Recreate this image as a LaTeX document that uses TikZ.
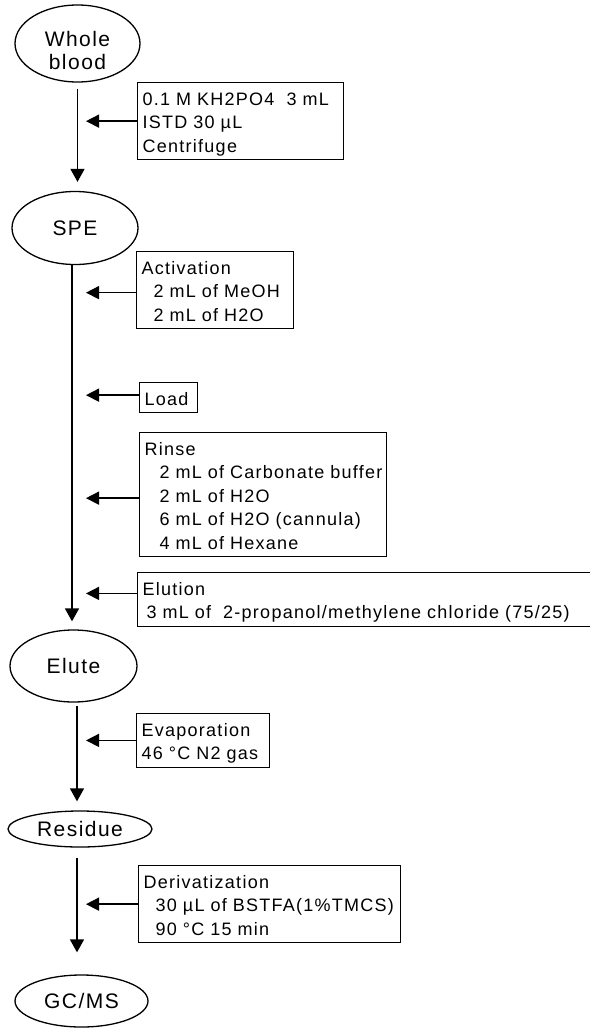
\documentclass[tikz,border=0pt]{standalone}
\usepackage{fontspec}
\setmainfont{Liberation Sans}[LetterSpace=7,WordSpace=1.3]
\usetikzlibrary{arrows.meta,shapes.geometric}
\tikzset{
stage/.style={ellipse,draw,line width=1.3pt,inner sep=0pt,align=center,font=\fontsize{21}{23}\selectfont},
cond/.style={draw,line width=1.3pt,anchor=north west,align=left,inner xsep=5pt,inner ysep=0pt,font=\fontsize{18}{23.5}\selectfont},
flow/.style={line width=1.5pt,-{Triangle[length=13pt,width=14pt]}},
feed/.style={line width=1.5pt,-{Triangle[length=13pt,width=13pt]}}
}
\newcommand{\fst}{\rule{0pt}{22.5pt}}
\newcommand{\lst}{\rule[-7.5pt]{0pt}{7.5pt}}
\newcommand{\ind}{\hspace*{12pt}}

\begin{document}
\begin{tikzpicture}[x=1pt,y=-1pt]
\useasboundingbox(0,0)rectangle(589,1028);
\node[stage,minimum width=125pt,minimum height=77pt](wb)at(77.5,43.5){\rule{0pt}{30pt}Whole\\blood};
\node[stage,minimum width=126pt,minimum height=73pt](spe)at(75,228){SPE};
\node[stage,minimum width=127pt,minimum height=72pt](elute)at(73.5,666){Elute};
\node[stage,minimum width=144pt,minimum height=36pt](res)at(80,829){Residue};
\node[stage,minimum width=133pt,minimum height=52pt](gcms)at(81.5,1001){GC/MS};
\node[cond,text width=196pt](buf)at(137,82){\fst 0.1 M KH2PO4\ \ 3 mL\\ISTD 30 µL\\Centrifuge\lst};
\node[cond,text width=147pt](act)at(136,251){\fst Activation\\\ind 2 mL of MeOH\\\ind 2 mL of H2O\lst};
\node[cond,text width=48pt](load)at(139,382){\fst Load\lst};
\node[cond,text width=237pt](rinse)at(139,432){\fst Rinse\\\hspace*{15pt}2 mL of Carbonate buffer\\\hspace*{15pt}2 mL of H2O\\\hspace*{15pt}6 mL of H2O (cannula)\\\hspace*{15pt}4 mL of Hexane\lst};
\node[cond,text width=445pt](elu)at(137,572){\fst Elution\\\hspace*{4pt}3 mL of\ \ 2-propanol/methylene chloride (75/25)\lst};
\node[cond,text width=123pt](evap)at(136,713){\fst Evaporation\\46 °C N2 gas\lst};
\node[cond,text width=252pt](deriv)at(138,865){\fst Derivatization\\\ind 30 µL of BSTFA(1\%TMCS)\\\ind 90 °C 15 min\lst};
\coordinate(tip)at(86,0);
\draw[flow,shorten <=6pt,shorten >=9pt](wb.south)--(wb.south|-spe.north);
\draw[flow,shorten >=8pt]([xshift=-3pt]spe.south)--([xshift=-3pt]spe.south|-elute.north);
\draw[flow,shorten <=3pt,shorten >=9pt]([xshift=3.5pt]elute.south)--([xshift=3.5pt]elute.south|-res.north);
\draw[flow,shorten <=10pt,shorten >=22pt]([xshift=-3pt]res.south)--([xshift=-3pt]res.south|-gcms.north);
\draw[feed](buf.west)--(buf.west-|tip);
\draw[feed]([yshift=-2.5pt]act.west)--([yshift=-2.5pt]act.west-|tip);
\draw[feed]([yshift=2.5pt]load.west)--([yshift=2.5pt]load.west-|tip);
\draw[feed]([yshift=-3.5pt]rinse.west)--([yshift=-3.5pt]rinse.west-|tip);
\draw[feed]([yshift=6pt]elu.west)--([yshift=6pt]elu.west-|tip);
\draw[feed](evap.west)--(evap.west-|tip);
\draw[feed](deriv.west)--(deriv.west-|tip);
\end{tikzpicture}
\end{document}
